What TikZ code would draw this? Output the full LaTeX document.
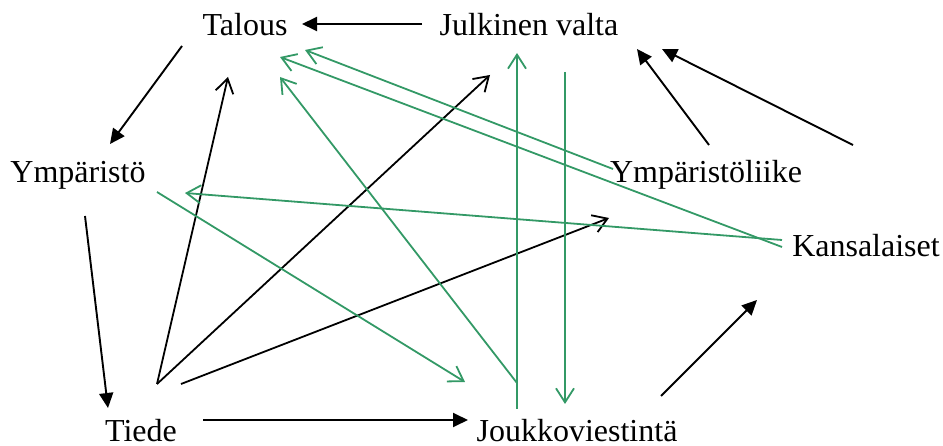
\documentclass[tikz,border=0pt]{standalone}
\usepackage{fontspec}
\setmainfont{Liberation Serif}
\usetikzlibrary{arrows.meta,calc}
\definecolor{leafgreen}{RGB}{51,153,102}
\begin{document}
\begin{tikzpicture}[
  x=1pt, y=-1pt,
  actor/.style={anchor=base, inner sep=0pt, font=\fontsize{32}{38}\selectfont},
  push/.style={-{Triangle[length=15pt,width=14pt]}, line width=1.9pt},
  link/.style={-{Straight Barb[length=14pt,width=18pt]}, line width=1.8pt},
  media/.style={link, draw=leafgreen}
]
\useasboundingbox (0,0) rectangle (943,446);

\node[actor] (tal) at (245,36)  {Talous};
\node[actor] (jv)  at (529,36)  {Julkinen valta};
\node[actor] (ymp) at (78,183)  {Ympäristö};
\node[actor] (yl)  at (706,183) {Ympäristöliike};
\node[actor] (kan) at (866,257) {Kansalaiset};
\node[actor] (tie) at (141,441) {Tiede};
\node[actor] (jou) at (577,441) {Joukkoviestintä};

% black, filled tips
\draw[push] ($(jv.base)+(-107,-12)$) -- ($(tal.base)+(57,-12)$);
\draw[push] ($(tal.base)+(-63,10)$) -- ($(ymp.base)+(32,-39)$);
\draw[push] ($(ymp.base)+(7,33)$) -- ($(tie.base)+(-33,-33)$);
\draw[push] ($(tie.base)+(62,-21)$) -- ($(jou.base)+(-109,-21)$);
\draw[push] ($(jou.base)+(84,-45)$) -- ($(kan.base)+(-109,43)$);
\draw[push] ($(yl.base)+(3,-38)$) -- ($(jv.base)+(108,13)$);
\draw[push] ($(kan.base)+(-13,-112)$) -- ($(jv.base)+(133,13)$);

% black, open tips
\draw[link] ($(tie.base)+(16,-57)$) -- ($(tal.base)+(-17,41)$);
\draw[link] ($(tie.base)+(16,-57)$) -- ($(jv.base)+(-39,39)$);
\draw[link] ($(tie.base)+(40,-57)$) -- ($(yl.base)+(-97,35)$);

% green
\draw[media] ($(jou.base)+(-60,-32)$) -- ($(jv.base)+(-12,17)$);
\draw[media] ($(jv.base)+(36,36)$) -- ($(jou.base)+(-12,-37)$);
\draw[media] ($(ymp.base)+(79,9)$) -- ($(jou.base)+(-112,-59)$);
\draw[media] ($(jou.base)+(-60,-58)$) -- ($(tal.base)+(35,41)$);
\draw[media] ($(yl.base)+(-93,-14)$) -- ($(tal.base)+(60,14)$);
\draw[media] ($(kan.base)+(-84,-10)$) -- ($(tal.base)+(35,21)$);
\draw[media] ($(kan.base)+(-84,-17)$) -- ($(ymp.base)+(107,10)$);
\end{tikzpicture}
\end{document}
